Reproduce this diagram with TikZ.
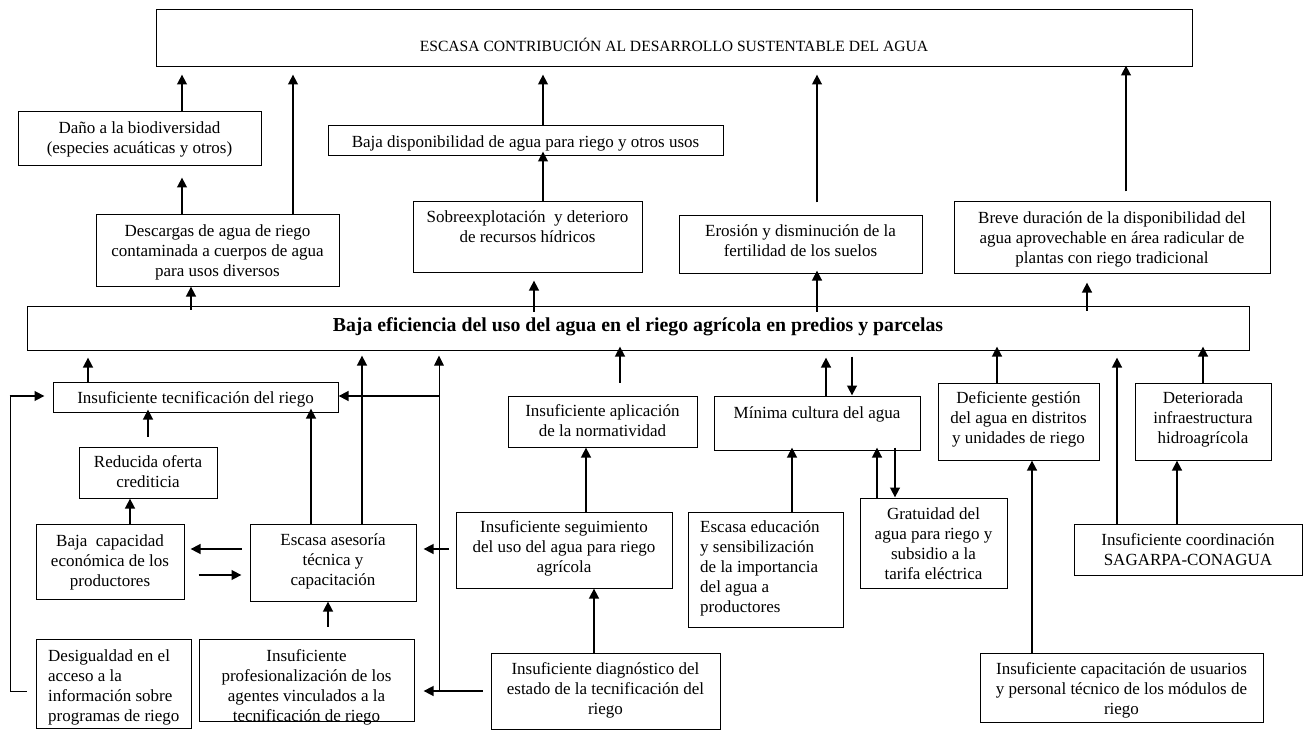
\documentclass[tikz,border=0pt]{standalone}
\usepackage{fontspec}
\setmainfont{Liberation Serif}
\usetikzlibrary{arrows.meta,fit,calc}
\newcommand\bodyfont{\fontsize{17}{20}\selectfont}
\newcommand\capfont{\fontsize{15.6}{18}\selectfont}
\newcommand\mainfont{\fontsize{19.8}{23}\selectfont\bfseries}
\begin{document}
\begin{tikzpicture}[x=1pt,y=-1pt,
  box/.style={draw, line width=1pt, inner sep=0pt},
  txt/.style={inner sep=0pt, align=center, font=\bodyfont, yshift=-1.5pt, execute at begin node=\strut, execute at end node=\strut},
  ltxt/.style={txt, align=left, anchor=west},
  arr/.style={line width=2.7pt, -{Triangle[length=10pt,width=9.5pt]}},
  thinarr/.style={line width=1pt, -{Triangle[length=10pt,width=9.5pt]}},
  thinline/.style={line width=1pt}]
\useasboundingbox (0,0) rectangle (1304,730);
\fill[white] (0,0) rectangle (1304,730);

% ---------- boxes ----------
\node[box, fit={(156,10)(1192,67)}] (top) {};
\node[box, fit={(18,112)(261,166)}] (dano) {};
\node[box, fit={(96,215)(339,286)}] (desc) {};
\node[box, fit={(328,126)(723,156)}] (bajadisp) {};
\node[box, fit={(413,202)(642,272)}] (sobre) {};
\node[box, fit={(679,216)(922,273)}] (erosion) {};
\node[box, fit={(954,202)(1270,273)}] (breve) {};
\node[box, fit={(27,306)(1249,350)}] (main) {};
\node[box, fit={(53,382)(338,412)}] (IT) {};
\node[box, fit={(79,447)(217,498)}] (reducida) {};
\node[box, fit={(36,524)(184,599)}] (bajacap) {};
\node[box, fit={(250,524)(416,601)}] (EA) {};
\node[box, fit={(36,639)(191,728)}] (desig) {};
\node[box, fit={(199,639)(414,721)}] (prof) {};
\node[box, fit={(508,396)(697,447)}] (aplic) {};
\node[box, fit={(456,512)(672,588)}] (seg) {};
\node[box, fit={(491,653)(720,729)}] (diag) {};
\node[box, fit={(714,396)(920,450)}] (minima) {};
\node[box, fit={(688,512)(843,627)}] (educ) {};
\node[box, fit={(860,498)(1007,588)}] (grat) {};
\node[box, fit={(938,383)(1099,460)}] (gestion) {};
\node[box, fit={(1135,383)(1271,460)}] (deter) {};
\node[box, fit={(1074,524)(1302,575)}] (sagarpa) {};
\node[box, fit={(980,653)(1263,722)}] (capac) {};

% ---------- texts ----------
\node[txt, font=\capfont] (top-t) at (674,46.5) {ESCASA CONTRIBUCIÓN AL DESARROLLO SUSTENTABLE DEL AGUA};
\node[txt] (dano-t) at (139.5,139.5) {Daño a la biodiversidad\\(especies acuáticas y otros)};
\node[txt] (desc-t) at (217.5,252.5) {Descargas de agua de riego\\contaminada a cuerpos de agua\\para usos diversos};
\node[txt] (bajadisp-t) at (525.5,142) {Baja disponibilidad de agua para riego y otros usos};
\node[txt] (sobre-t) at (527.5,228.5) {Sobreexplotación\ \ y deterioro\\de recursos hídricos};
\node[txt] (erosion-t) at (800.5,242) {Erosión y disminución de la\\fertilidad de los suelos};
\node[txt] (breve-t) at (1112,239) {Breve duración de la disponibilidad del\\agua aprovechable en área radicular de\\plantas con riego tradicional};
\node[txt, font=\mainfont] (main-t) at (638,325) {Baja eficiencia del uso del agua en el riego agrícola en predios y parcelas};
\node[txt] (IT-t) at (195.5,398) {Insuficiente tecnificación del riego};
\node[txt] (reducida-t) at (148,473) {Reducida oferta\\crediticia};
\node[txt] (bajacap-t) at (110,562) {Baja\ \ capacidad\\económica de los\\productores};
\node[txt] (EA-t) at (333,561) {Escasa asesoría\\técnica y\\capacitación};
\node[ltxt] (desig-t) at (48,687) {Desigualdad en el\\acceso a la\\información sobre\\programas de riego};
\node[txt] (prof-t) at (306.5,687) {Insuficiente\\profesionalización de los\\agentes vinculados a la\\tecnificación de riego};
\node[txt] (aplic-t) at (602.5,422) {Insuficiente aplicación\\de la normatividad};
\node[txt] (seg-t) at (564,548) {Insuficiente seguimiento\\del uso del agua para riego\\agrícola};
\node[txt] (diag-t) at (605.5,690) {Insuficiente diagnóstico del\\estado de la tecnificación del\\riego};
\node[txt] (minima-t) at (817,413) {Mínima cultura del agua};
\node[ltxt] (educ-t) at (700,568) {Escasa educación\\y sensibilización\\de la importancia\\del agua a\\productores};
\node[txt] (grat-t) at (933.5,545) {Gratuidad del\\agua para riego y\\subsidio a la\\tarifa eléctrica};
\node[txt] (gestion-t) at (1018.5,419) {Deficiente gestión\\del agua en distritos\\y unidades de riego};
\node[txt] (deter-t) at (1203,419) {Deteriorada\\infraestructura\\hidroagrícola};
\node[txt] (sagarpa-t) at (1188,551.5) {Insuficiente coordinación\\SAGARPA-CONAGUA};
\node[txt] (capac-t) at (1121.5,690) {Insuficiente capacitación de usuarios\\y personal técnico de los módulos de\\riego};

% ---------- connectors: upper part ----------
\draw[arr, shorten >=7pt] (dano.north -| 182,0) -- (top.south -| 182,0);
\draw[arr, shorten >=11pt] (desc.north -| 182,0) -- (dano.south -| 182,0);
\draw[arr, shorten >=7pt] (desc.north -| 293,0) -- (top.south -| 293,0);
\draw[arr, shorten >=7pt] (bajadisp.north -| 543,0) -- (top.south -| 543,0);
\draw[arr, shorten >=-5pt] (sobre.north -| 543,0) -- (bajadisp.south -| 543,0);
\draw[arr, shorten <=13pt, shorten >=7pt] (erosion.north -| 817,0) -- (top.south -| 817,0);
\draw[arr, shorten <=10pt, shorten >=-2pt] (breve.north -| 1126,0) -- (top.south -| 1126,0);
\draw[arr, shorten <=-4pt] (main.north -| 191,0) -- (desc.south -| 191,0);
\draw[arr, shorten <=-6pt, shorten >=8pt] (main.north -| 534,0) -- (sobre.south -| 534,0);
\draw[arr, shorten <=-6pt, shorten >=-3pt] (main.north -| 817,0) -- (erosion.south -| 817,0);
\draw[arr, shorten <=-5pt, shorten >=9pt] (main.north -| 1087,0) -- (breve.south -| 1087,0);

% ---------- connectors: lower left ----------
\draw[arr, shorten >=7pt] (IT.north -| 88,0) -- (main.south -| 88,0);
\draw[arr, shorten <=10pt, shorten >=-3pt] (reducida.north -| 148,0) -- (IT.south -| 148,0);
\draw[arr] (bajacap.north -| 130,0) -- (reducida.south -| 130,0);
\draw[arr, shorten <=8pt, shorten >=6pt] (EA.west |- 0,549) -- (bajacap.east |- 0,549);
\draw[arr, shorten <=14pt, shorten >=8pt] (bajacap.east |- 0,575) -- (EA.west |- 0,575);
\draw[arr, shorten >=-4pt] (EA.north -| 311,0) -- (IT.south -| 311,0);
\draw[arr, shorten >=5pt] (EA.north -| 362,0) -- (main.south -| 362,0);
\draw[arr, shorten <=12pt] (prof.north -| 328,0) -- (EA.south -| 328,0);
\draw[arr, shorten <=7pt, shorten >=7pt] (seg.west |- 0,549) -- (EA.east |- 0,549);
\draw[arr, shorten <=8pt, shorten >=9pt] (diag.west |- 0,691) -- (prof.east |- 0,691);
\coordinate (j1) at (439,691);
\coordinate (j2) at (439,396);
\draw[thinarr, shorten >=5pt] (j1) -- (main.south -| j1);
\draw[arr] (j2) -- (IT.east |- j2);
\coordinate (k1) at (10,691);
\coordinate (k2) at (10,396);
\draw[thinline, shorten <=9pt] (desig.west |- k1) -- (k1) -- (k2);
\draw[arr, shorten >=8pt] ([xshift=-0.5pt]k2) -- (IT.west |- k2);

% ---------- connectors: lower middle ----------
\draw[arr, shorten <=13pt, shorten >=-4pt] (aplic.north -| 620,0) -- (main.south -| 620,0);
\draw[arr] (seg.north -| 586,0) -- (aplic.south -| 586,0);
\draw[arr] (diag.north -| 594,0) -- (seg.south -| 594,0);
\draw[arr, shorten >=7pt] (minima.north -| 826,0) -- (main.south -| 826,0);
\draw[arr, shorten <=6pt] (main.south -| 852,0) -- (minima.north -| 852,0);
\draw[arr, shorten >=-3pt] (educ.north -| 792,0) -- (minima.south -| 792,0);
\draw[arr, shorten >=-3pt] (grat.north -| 877,0) -- (minima.south -| 877,0);
\draw[arr, shorten <=-3pt] (minima.south -| 895,0) -- (grat.north -| 895,0);

% ---------- connectors: lower right ----------
\draw[arr, shorten >=-4pt] (gestion.north -| 997,0) -- (main.south -| 997,0);
\draw[arr, shorten >=-4pt] (deter.north -| 1203,0) -- (main.south -| 1203,0);
\draw[arr, shorten >=7pt] (sagarpa.north -| 1117,0) -- (main.south -| 1117,0);
\draw[arr] (sagarpa.north -| 1177,0) -- (deter.south -| 1177,0);
\draw[arr] (capac.north -| 1032,0) -- (gestion.south -| 1032,0);
\end{tikzpicture}
\end{document}
